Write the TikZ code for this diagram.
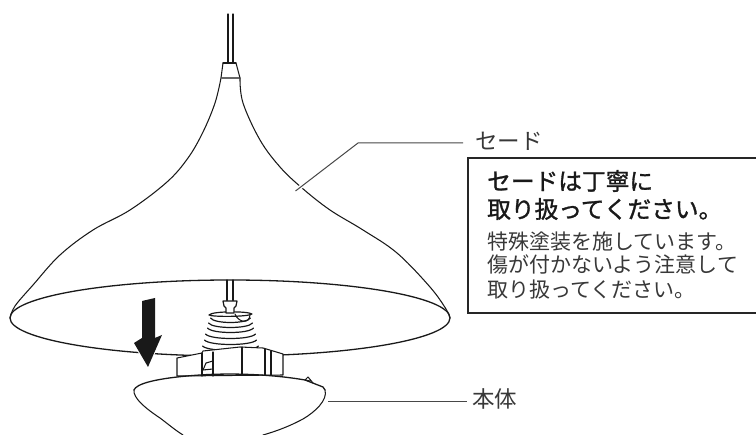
\documentclass[tikz,border=0pt]{standalone}
\usepackage{fontspec}
\newfontfamily\cjk{Noto Sans CJK JP}
\newfontfamily\cjkh[FakeBold=1.3]{Noto Sans CJK JP}
\tikzset{
 lineart/.style={line width=1.05pt,draw=black!90,line join=round,line cap=round},
 rim/.style={lineart,line width=1.3pt},
 ringline/.style={lineart,line width=1.2pt,fill=white},
 leader/.style={line width=1pt,draw=black!72},
 halo/.style={line width=4pt,draw=white},
 lab/.style={inner sep=0pt,font=\cjk\fontsize{22.5}{22.5}\selectfont,text=black!78,anchor=base west},
 hd/.style={inner sep=0pt,font=\cjkh\fontsize{23.7}{23.7}\selectfont,text=black!90,anchor=base west},
 bodyt/.style={inner sep=0pt,font=\cjk\fontsize{21}{21}\selectfont,text=black!78,anchor=base west},
}
\begin{document}
\begin{tikzpicture}[x=1pt,y=-1pt]
\useasboundingbox (0,0) rectangle (756,435);
\clip (0,0) rectangle (756,435);
% cord
\draw[lineart] (228,14)--(228,63) (233,14)--(233,63);
% shade outline
\draw[lineart] (223,63)--(236,63);
\draw[lineart,draw=black!60] (222,78)--(239,78);
\draw[lineart] (223,63)--(221,78);
\draw[lineart] (236,63)--(240,78);
\draw[lineart] plot[smooth,tension=0.6] coordinates {(221,78) (215,103) (203,132) (188,158) (167,182) (130,210) (93,230) (60,255) (33,285) (15,306) (10,318)};
\draw[lineart] plot[smooth,tension=0.6] coordinates {(240,78) (243,103) (260,140) (280,167) (302,188) (330,210) (363,230) (397,253) (430,287) (446,309) (450,318)};
% rim
\draw[rim] (230,318) ellipse [x radius=220,y radius=38];
% stem
\draw[lineart] (227,280)--(227,301) (233,280)--(233,301);
% spring, bottom ring first
\foreach \y/\h in {351/28,345/26,339/25,333/23,328/22,323/20}{
  \draw[ringline] (230.5-\h,\y-5) .. controls (230.5-\h*0.8,\y+1) and (230.5+\h*0.8,\y+1) .. (230.5+\h,\y-5);
}
% cap and disk
\draw[lineart,line width=1.2pt,fill=white] (209,315) .. controls (212,311) and (248,311) .. (252,314) .. controls (248,317) and (212,317) .. (209,315);
\draw[lineart] (235,314) .. controls (238,322) and (249,325) .. (250,315);
\draw[lineart,line width=1.2pt,fill=white] (223,301) -- (237,301) -- (236,306) -- (234,308) -- (234,313) -- (226,313) -- (226,308) -- (224,306) -- cycle;
% body block
\draw[lineart,fill=white] (177,358) -- (177,376) -- (283,375) -- (283,354) -- (263,348) -- (240,347) -- (203,351) -- (202,353) -- cycle;
\draw[lineart] (202,353)--(202,376) (213,352)--(213,376) (242,347)--(242,375) (265,349)--(265,375) (271,351)--(271,375);
\draw[lineart] (203,370)--(206,363)--(213,361)  (203,370)--(213,369);
% body dome
\draw[rim] (134,390) .. controls (136,384) and (155,378) .. (200,375) .. controls (230,373) and (270,374) .. (305,380) -- (323,387) -- (325,390);
\draw[lineart] (134,390) .. controls (133,398) and (145,408) .. (160,418) .. controls (168,424) and (175,430) .. (183,435);
\draw[lineart] (325,390) .. controls (328,400) and (315,412) .. (303,419) .. controls (290,426) and (277,431) .. (263,435);
\draw[lineart] (305,380)--(308,377)--(313,383) (305,380)--(310,381);
% arrow
\filldraw[fill=black!90,draw=white,line width=2pt,line join=miter] (142,301)--(155,298)--(155,338)--(162,335)--(148,367)--(134,343)--(142,338)--cycle;
\fill[black!90] (142,301)--(155,298)--(155,338)--(162,335)--(148,367)--(134,343)--(142,338)--cycle;
% leaders
\coordinate (a) at (295.5,191);
\coordinate (b) at (358,143);
\coordinate (c) at (463,143);
\coordinate (d) at (328,402);
\coordinate (e) at (467,402);
\draw[halo] (a)--(b);
\draw[leader] (a)--(b)--(c);
\draw[leader] (d)--(e);
% labels
\node[lab] (l1) at (475,150) {セード};
\node[lab] (l2) at (472,408) {本体};
% box
\draw[line width=2.2pt,draw=black!85] (468,158) rectangle (760,313);
\node[hd] (h1) at (487,190) {セードは丁寧に};
\node[hd] (h2) at (487,218) {取り扱ってください。};
\node[bodyt] (b1) at (487,250) {特殊塗装を施しています。};
\node[bodyt] (b2) at (487,273) {傷が付かないよう注意して};
\node[bodyt] (b3) at (487,298) {取り扱ってください。};
\end{tikzpicture}
\end{document}
